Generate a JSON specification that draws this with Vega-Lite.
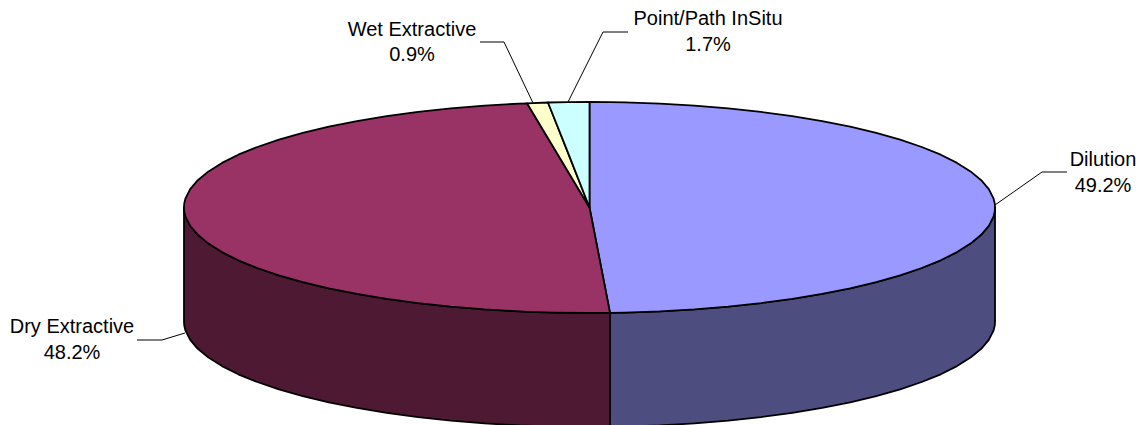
{"$schema":"https://vega.github.io/schema/vega-lite/v6.json","width":1143,"height":425,"padding":0,"autosize":{"type":"fit","contains":"padding"},"background":"white","view":{"stroke":null},
"config":{"view":{"stroke":null}},
"datasets":{
"faces":[
{"part":"Dry side","x":184.0,"y":207.5,"y2":321.5},{"part":"Dry side","x":184.2,"y":211.2,"y2":325.2},{"part":"Dry side","x":185.5,"y":216.7,"y2":330.7},{"part":"Dry side","x":190.2,"y":225.8,"y2":339.8},{"part":"Dry side","x":197.8,"y":234.8,"y2":348.8},{"part":"Dry side","x":208.5,"y":243.6,"y2":357.6},{"part":"Dry side","x":222.0,"y":252.1,"y2":366.1},{"part":"Dry side","x":238.3,"y":260.3,"y2":374.3},{"part":"Dry side","x":257.3,"y":268.0,"y2":382.0},{"part":"Dry side","x":278.9,"y":275.3,"y2":389.3},{"part":"Dry side","x":302.8,"y":282.1,"y2":396.1},{"part":"Dry side","x":328.8,"y":288.3,"y2":402.3},{"part":"Dry side","x":356.9,"y":293.9,"y2":407.9},{"part":"Dry side","x":386.7,"y":298.9,"y2":412.9},{"part":"Dry side","x":418.1,"y":303.1,"y2":417.1},{"part":"Dry side","x":450.8,"y":306.6,"y2":420.6},{"part":"Dry side","x":484.6,"y":309.4,"y2":423.4},{"part":"Dry side","x":519.1,"y":311.4,"y2":425.4},{"part":"Dry side","x":554.2,"y":312.6,"y2":426.6},{"part":"Dry side","x":589.5,"y":313.0,"y2":427.0},{"part":"Dry side","x":610.0,"y":312.9,"y2":426.9},
{"part":"Dilution side","x":610.0,"y":312.9,"y2":426.9},{"part":"Dilution side","x":624.8,"y":312.6,"y2":426.6},{"part":"Dilution side","x":659.9,"y":311.4,"y2":425.4},{"part":"Dilution side","x":694.4,"y":309.4,"y2":423.4},{"part":"Dilution side","x":728.2,"y":306.6,"y2":420.6},{"part":"Dilution side","x":760.9,"y":303.1,"y2":417.1},{"part":"Dilution side","x":792.3,"y":298.9,"y2":412.9},{"part":"Dilution side","x":822.1,"y":293.9,"y2":407.9},{"part":"Dilution side","x":850.2,"y":288.3,"y2":402.3},{"part":"Dilution side","x":876.2,"y":282.1,"y2":396.1},{"part":"Dilution side","x":900.1,"y":275.3,"y2":389.3},{"part":"Dilution side","x":921.7,"y":268.0,"y2":382.0},{"part":"Dilution side","x":940.7,"y":260.3,"y2":374.3},{"part":"Dilution side","x":957.0,"y":252.1,"y2":366.1},{"part":"Dilution side","x":970.5,"y":243.6,"y2":357.6},{"part":"Dilution side","x":981.2,"y":234.8,"y2":348.8},{"part":"Dilution side","x":988.8,"y":225.8,"y2":339.8},{"part":"Dilution side","x":993.5,"y":216.7,"y2":330.7},{"part":"Dilution side","x":994.8,"y":211.2,"y2":325.2},{"part":"Dilution side","x":995.0,"y":207.5,"y2":321.5},
{"part":"Dilution","x":589.5,"y":102.0,"y2":207.5},{"part":"Dilution","x":610.0,"y":102.1,"y2":312.9},{"part":"Dilution","x":624.8,"y":102.4,"y2":312.6},{"part":"Dilution","x":659.9,"y":103.6,"y2":311.4},{"part":"Dilution","x":694.4,"y":105.6,"y2":309.4},{"part":"Dilution","x":728.2,"y":108.4,"y2":306.6},{"part":"Dilution","x":760.9,"y":111.9,"y2":303.1},{"part":"Dilution","x":792.3,"y":116.1,"y2":298.9},{"part":"Dilution","x":822.1,"y":121.1,"y2":293.9},{"part":"Dilution","x":850.2,"y":126.7,"y2":288.3},{"part":"Dilution","x":876.2,"y":132.9,"y2":282.1},{"part":"Dilution","x":900.1,"y":139.7,"y2":275.3},{"part":"Dilution","x":921.7,"y":147.0,"y2":268.0},{"part":"Dilution","x":940.7,"y":154.7,"y2":260.3},{"part":"Dilution","x":957.0,"y":162.9,"y2":252.1},{"part":"Dilution","x":970.5,"y":171.4,"y2":243.6},{"part":"Dilution","x":981.2,"y":180.2,"y2":234.8},{"part":"Dilution","x":988.8,"y":189.2,"y2":225.8},{"part":"Dilution","x":993.5,"y":198.3,"y2":216.7},{"part":"Dilution","x":994.8,"y":203.8,"y2":211.2},{"part":"Dilution","x":995.0,"y":207.5,"y2":207.5},
{"part":"Dry Extractive","x":184.0,"y":207.5,"y2":207.5},{"part":"Dry Extractive","x":184.2,"y":203.8,"y2":211.2},{"part":"Dry Extractive","x":185.5,"y":198.3,"y2":216.7},{"part":"Dry Extractive","x":190.2,"y":189.2,"y2":225.8},{"part":"Dry Extractive","x":197.8,"y":180.2,"y2":234.8},{"part":"Dry Extractive","x":208.5,"y":171.4,"y2":243.6},{"part":"Dry Extractive","x":222.0,"y":162.9,"y2":252.1},{"part":"Dry Extractive","x":238.3,"y":154.7,"y2":260.3},{"part":"Dry Extractive","x":257.3,"y":147.0,"y2":268.0},{"part":"Dry Extractive","x":278.9,"y":139.7,"y2":275.3},{"part":"Dry Extractive","x":302.8,"y":132.9,"y2":282.1},{"part":"Dry Extractive","x":328.8,"y":126.7,"y2":288.3},{"part":"Dry Extractive","x":356.9,"y":121.1,"y2":293.9},{"part":"Dry Extractive","x":386.7,"y":116.1,"y2":298.9},{"part":"Dry Extractive","x":418.1,"y":111.9,"y2":303.1},{"part":"Dry Extractive","x":450.8,"y":108.4,"y2":306.6},{"part":"Dry Extractive","x":484.6,"y":105.6,"y2":309.4},{"part":"Dry Extractive","x":519.1,"y":103.6,"y2":311.4},{"part":"Dry Extractive","x":527.0,"y":103.3,"y2":311.8},{"part":"Dry Extractive","x":554.2,"y":148.6,"y2":312.6},{"part":"Dry Extractive","x":589.5,"y":207.5,"y2":313.0},{"part":"Dry Extractive","x":610.0,"y":312.9,"y2":312.9},
{"part":"Wet Extractive","x":527.0,"y":103.3,"y2":103.3},{"part":"Wet Extractive","x":548.0,"y":102.5,"y2":138.3},{"part":"Wet Extractive","x":589.5,"y":207.5,"y2":207.5},
{"part":"Point/Path InSitu","x":548.0,"y":102.5,"y2":102.5},{"part":"Point/Path InSitu","x":568.0,"y":102.1,"y2":152.5},{"part":"Point/Path InSitu","x":589.5,"y":102.0,"y2":207.5}
],
"leaders":[
{"name":"Wet","step":1,"x":480,"y":42},{"name":"Wet","step":2,"x":504,"y":42},{"name":"Wet","step":3,"x":533,"y":103},
{"name":"Point","step":1,"x":628,"y":32},{"name":"Point","step":2,"x":603,"y":32},{"name":"Point","step":3,"x":568,"y":102},
{"name":"Dry","step":1,"x":137,"y":340},{"name":"Dry","step":2,"x":162,"y":340},{"name":"Dry","step":3,"x":185,"y":333},
{"name":"Dilution","step":1,"x":1067,"y":172},{"name":"Dilution","step":2,"x":1042,"y":172},{"name":"Dilution","step":3,"x":995,"y":205}
],
"labels":[
{"text":"Wet Extractive","x":412,"y":36},{"text":"0.9%","x":412,"y":61},
{"text":"Point/Path InSitu","x":708,"y":25},{"text":"1.7%","x":708,"y":51},
{"text":"Dry Extractive","x":72,"y":333},{"text":"48.2%","x":72,"y":359},
{"text":"Dilution","x":1103,"y":166},{"text":"49.2%","x":1103,"y":192}
]},
"layer":[
{"data":{"name":"faces"},
"mark":{"type":"area","stroke":"black","strokeWidth":1.8,"strokeJoin":"round","opacity":1,"fillOpacity":1,"clip":true,"orient":"vertical"},
"encoding":{
"x":{"field":"x","type":"quantitative","scale":{"domain":[0,1143],"nice":false,"zero":false},"axis":null},
"y":{"field":"y","type":"quantitative","scale":{"domain":[0,425],"reverse":true,"nice":false,"zero":false},"axis":null,"stack":null},
"y2":{"field":"y2"},
"color":{"field":"part","type":"nominal","legend":null,"sort":null,"scale":{"domain":["Dry side","Dilution side","Dilution","Dry Extractive","Wet Extractive","Point/Path InSitu"],"range":["#4D1933","#4D4D80","#9999FF","#993366","#FFFFCC","#CCFFFF"]}}
}},
{"data":{"name":"leaders"},
"mark":{"type":"line","color":"black","strokeWidth":1},
"encoding":{
"x":{"field":"x","type":"quantitative","scale":{"domain":[0,1143],"nice":false,"zero":false},"axis":null},
"y":{"field":"y","type":"quantitative","scale":{"domain":[0,425],"reverse":true,"nice":false,"zero":false},"axis":null},
"detail":{"field":"name"},
"order":{"field":"step","type":"quantitative"}
}},
{"data":{"name":"labels"},
"mark":{"type":"text","font":"Liberation Sans","fontSize":20,"color":"black","align":"center","baseline":"alphabetic"},
"encoding":{
"x":{"field":"x","type":"quantitative","scale":{"domain":[0,1143],"nice":false,"zero":false},"axis":null},
"y":{"field":"y","type":"quantitative","scale":{"domain":[0,425],"reverse":true,"nice":false,"zero":false},"axis":null},
"text":{"field":"text"}
}}
]}
